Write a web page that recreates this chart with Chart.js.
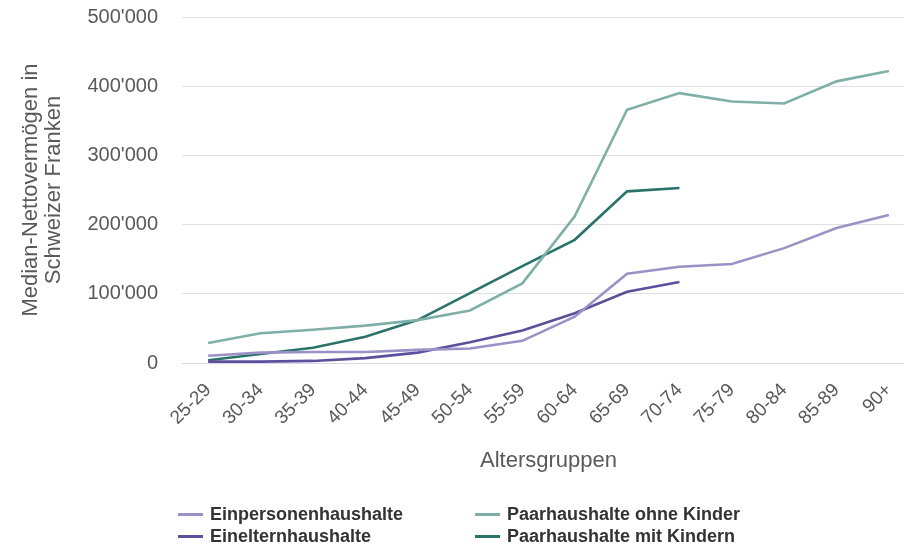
<!DOCTYPE html>
<html lang="de">
<head>
<meta charset="utf-8">
<script src="https://cdn.jsdelivr.net/npm/chart.js@4"></script>
<style>
    html, body { margin: 0; padding: 0; background: #fff; overflow: hidden; }
    body { width: 904px; height: 546px; position: relative; }
    .chart-box { position: absolute; left: 0; top: 0; width: 921px; height: 546px; }
    .legend { position: absolute; left: 0; top: 0; width: 904px; height: 546px; pointer-events: none; }
    .legend-item {
        position: absolute;
        display: flex;
        align-items: center;
        font-family: "Liberation Sans", Arial, sans-serif;
        font-weight: bold;
        font-size: 18px;
        color: #333;
        white-space: nowrap;
        height: 22px;
    }
    .legend-item span.swatch { display: inline-block; width: 25px; height: 3px; margin-right: 7px; }
</style>
</head>
<body>
<div class="chart-box"><canvas id="wealthChart"></canvas></div>
<div class="legend" id="wealthLegend"></div>
<script>
const ageGroups = ['25-29', '30-34', '35-39', '40-44', '45-49', '50-54', '55-59', '60-64', '65-69', '70-74', '75-79', '80-84', '85-89', '90+'];

const einpersonen = [10500, 15000, 16000, 16000, 19000, 21000, 32000, 67000, 129000, 139000, 143000, 166000, 195000, 214000];
const eineltern = [2000, 2000, 3000, 7000, 15000, 30000, 47000, 72000, 103000, 117000, null, null, null, null];
const paarOhneKinder = [29000, 43000, 48000, 54000, 62000, 76000, 115000, 212000, 366000, 390000, 378000, 375000, 407000, 422000];
const paarMitKindern = [4000, 13000, 22000, 38000, 62000, 101000, 140000, 178000, 248000, 253000, null, null, null, null];

const yTicks = [0, 100000, 200000, 300000, 400000, 500000];

const labelColor = '#595959';
const fontFamily = '"Liberation Sans", Arial, sans-serif';

function swissNumber(value) {
    return String(value).replace(/\B(?=(\d{3})+(?!\d))/g, "'");
}

const datasets = [
    { label: 'Einpersonenhaushalte', data: einpersonen, borderColor: '#9c91c6' },
    { label: 'Paarhaushalte ohne Kinder', data: paarOhneKinder, borderColor: '#7fb0a7' },
    { label: 'Einelternhaushalte', data: eineltern, borderColor: '#5e4e9c' },
    { label: 'Paarhaushalte mit Kindern', data: paarMitKindern, borderColor: '#2b736a' },
];

const canvas = document.getElementById('wealthChart');

const chart = new Chart(canvas, {
    type: 'line',
    data: {
        labels: ageGroups,
        datasets: datasets.map((ds) => ({
            ...ds,
            borderWidth: 2.6,
            pointRadius: 0,
            tension: 0,
            fill: false,
        })),
    },
    options: {
        responsive: true,
        maintainAspectRatio: false,
        animation: false,
        layout: {
            padding: { top: 17, right: 0, bottom: 0, left: 0 },
        },
        plugins: {
            legend: { display: false },
            tooltip: { enabled: false },
        },
        scales: {
            x: {
                offset: true,
                grid: { display: false, drawTicks: false },
                border: { color: '#d3dbe9', width: 1 },
                ticks: {
                    color: labelColor,
                    font: { family: fontFamily, size: 19 },
                    minRotation: 45,
                    maxRotation: 45,
                    autoSkip: false,
                    padding: 16,
                },
                title: {
                    display: true,
                    text: 'Altersgruppen',
                    color: labelColor,
                    font: { family: fontFamily, size: 22 },
                    padding: { top: 0, bottom: 72 },
                },
                afterFit(scale) {
                    scale.height = 183;
                },
            },
            y: {
                min: 0,
                max: 500000,
                afterBuildTicks(scale) {
                    scale.ticks = yTicks.map((v) => ({ value: v }));
                },
                grid: {
                    drawTicks: false,
                    color: (ctx) => (ctx.tick && ctx.tick.value === 0 ? '#d3dbe9' : '#e1e1e1'),
                    lineWidth: 1,
                },
                border: { display: false },
                ticks: {
                    color: labelColor,
                    font: { family: fontFamily, size: 20 },
                    padding: 24,
                    callback: (value) => swissNumber(value),
                },
                title: {
                    display: true,
                    text: ['Median-Nettovermögen in', 'Schweizer Franken'],
                    color: labelColor,
                    font: { family: fontFamily, size: 22, lineHeight: 1.05 },
                    padding: { top: 19, bottom: 0 },
                },
                afterFit(scale) {
                    scale.width = 182;
                    // tick padding would otherwise push the plot top down
                    scale.paddingTop = 0;
                    scale.paddingBottom = 0;
                },
            },
        },
    },
});

// two-column legend below the chart, built from the chart's datasets
const legendEl = document.getElementById('wealthLegend');
const legendSpots = [
    { left: 178, top: 503 },
    { left: 475, top: 503 },
    { left: 178, top: 525 },
    { left: 475, top: 525 },
];
chart.data.datasets.forEach((ds, i) => {
    const item = document.createElement('div');
    item.className = 'legend-item';
    item.style.left = legendSpots[i].left + 'px';
    item.style.top = legendSpots[i].top + 'px';
    const swatch = document.createElement('span');
    swatch.className = 'swatch';
    swatch.style.background = ds.borderColor;
    item.appendChild(swatch);
    item.appendChild(document.createTextNode(ds.label));
    legendEl.appendChild(item);
});
</script>
</body>
</html>
